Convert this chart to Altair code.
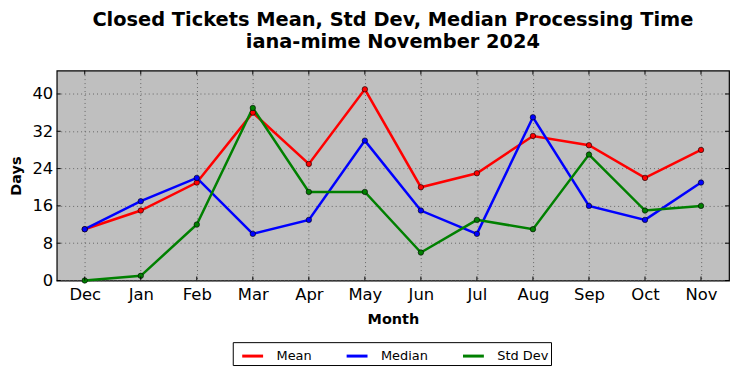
import altair as alt
import pandas as pd

months = ["Dec", "Jan", "Feb", "Mar", "Apr", "May", "Jun", "Jul", "Aug", "Sep", "Oct", "Nov"]
mean = [11, 15, 21, 36, 25, 41, 20, 23, 31, 29, 22, 28]
median = [11, 17, 22, 10, 13, 30, 15, 10, 35, 16, 13, 21]
std_dev = [0, 1, 12, 37, 19, 19, 6, 13, 11, 27, 15, 16]
series_names = ["Mean", "Median", "Std Dev"]
series_colors = ["#ff0000", "#0000ff", "#008000"]
y_ticks = [0, 8, 16, 24, 32, 40]

rows = []
for name, vals in zip(series_names, [mean, median, std_dev]):
    for m, v in zip(months, vals):
        rows.append({"Month": m, "Days": v, "Series": name})
df = pd.DataFrame(rows)
xt = pd.DataFrame({"Month": months})
yt = pd.DataFrame({"Days": y_ticks})

W, H = 676, 211
FONT = "DejaVu Sans"

xenc = alt.X(
    "Month:N", sort=months,
    scale=alt.Scale(type="point", padding=0.5),
    axis=alt.Axis(title="Month", labelAngle=0, labelFontSize=16.5, labelColor="black",
                  labelFont=FONT, titleFont=FONT, titleFontSize=14.5, titleFontWeight="bold",
                  titleColor="black", titlePadding=10, labelPadding=6, ticks=False, domain=False,
                  grid=True, gridDash=[1, 3], gridColor="#666666", gridOpacity=1),
)
xs = alt.X("Month:N", sort=months)
yenc = alt.Y(
    "Days:Q",
    scale=alt.Scale(domain=[0, 45], nice=False),
    axis=alt.Axis(title="Days", values=y_ticks, labelFontSize=16.5, labelColor="black",
                  labelFont=FONT, titleFont=FONT, titleFontSize=14.5, titleFontWeight="bold",
                  titleColor="black", titlePadding=8, labelPadding=4, ticks=False, domain=False,
                  grid=True, gridDash=[1, 3], gridColor="#666666", gridOpacity=1),
)
color = alt.Color(
    "Series:N",
    scale=alt.Scale(domain=series_names, range=series_colors),
    legend=alt.Legend(
        title=None, orient="none", direction="horizontal", legendX=177, legendY=273,
        symbolType="stroke", symbolSize=441, symbolStrokeWidth=3, symbolOffset=6,
        labelFont=FONT, labelFontSize=13, labelColor="black", labelOffset=12,
        columnPadding=27, padding=2, strokeColor="black", fillColor="white",
    ),
)

lines = alt.Chart(df).mark_line(strokeWidth=2.5).encode(x=xenc, y=yenc, color=color)
points = alt.Chart(df).mark_point(filled=True, size=30, stroke="black", strokeWidth=0.6, opacity=1).encode(
    x=xs, y="Days:Q",
    fill=alt.Fill("Series:N", scale=alt.Scale(domain=series_names, range=series_colors), legend=None),
)

tick_style = dict(color="black", strokeWidth=1)
xt_bottom = alt.Chart(xt).mark_rule(**tick_style).encode(x=xs, y=alt.value(H), y2=alt.value(H - 4))
xt_top = alt.Chart(xt).mark_rule(**tick_style).encode(x=xs, y=alt.value(0), y2=alt.value(4))
yt_left = alt.Chart(yt).mark_rule(**tick_style).encode(y="Days:Q", x=alt.value(0), x2=alt.value(4))
yt_right = alt.Chart(yt).mark_rule(**tick_style).encode(y="Days:Q", x=alt.value(W), x2=alt.value(W - 4))

chart = alt.layer(lines, points, xt_bottom, xt_top, yt_left, yt_right).properties(
    width=W, height=H,
    autosize=alt.AutoSizeParams(type="none"),
    padding={"left": 49, "top": 62, "right": 5, "bottom": 90},
    title=alt.TitleParams(
        ["Closed Tickets Mean, Std Dev, Median Processing Time", "iana-mime November 2024"],
        font=FONT, fontSize=19.5, fontWeight="bold", color="black", anchor="middle",
        lineHeight=22, offset=18,
    ),
).configure(background="white").configure_view(fill="#bfbfbf", stroke="black", strokeWidth=1.2)

chart.save("out.html", embed_options={"renderer": "svg", "actions": False})
